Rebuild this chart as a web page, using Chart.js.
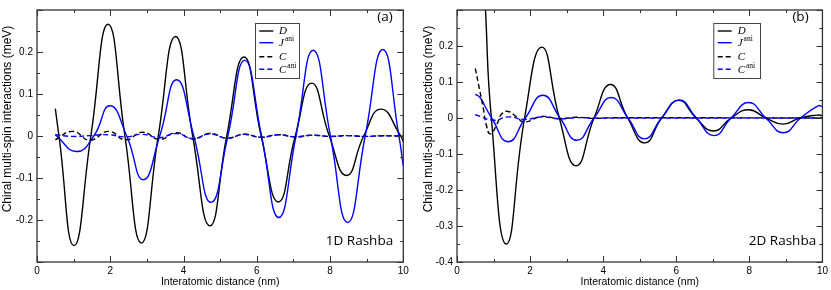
<!DOCTYPE html>
<html>
<head>
<meta charset="utf-8">
<script src="https://cdn.jsdelivr.net/npm/chart.js@4.4.0/dist/chart.umd.min.js"></script>
<style>
  html, body { margin: 0; padding: 0; background: #fff; }
  body { width: 831px; height: 290px; position: relative; overflow: hidden; }
  canvas { position: absolute; top: 0; }
  #panelA { left: 0; width: 416px; height: 290px; }
  #panelB { left: 416px; width: 415px; height: 290px; }
</style>
</head>
<body>
<canvas id="panelA" width="416" height="290"></canvas>
<canvas id="panelB" width="415" height="290"></canvas>
<script>
// --- data (x in nm, y in meV) ---

// (a) 1D Rashba
const xD_a = [0.5, 0.6, 1.01, 1.47, 1.94, 2.40, 2.85, 3.31, 3.78, 4.25, 4.72, 5.18, 5.65, 6.12, 6.59, 7.05, 7.50, 7.98, 8.45, 8.92, 9.39, 9.93, 10.0];
const yD_a = [0.065, 0, -0.261, 0, 0.266, 0, -0.255, 0, 0.237, 0, -0.214, 0, 0.188, 0, -0.157, 0, 0.126, 0, -0.094, 0, 0.064, 0, -0.014];

const xJ_a = [0.5, 1.08, 1.55, 1.99, 2.45, 2.90, 3.35, 3.81, 4.28, 4.75, 5.21, 5.67, 6.13, 6.60, 7.07, 7.54, 8.01, 8.48, 8.96, 9.44, 9.88, 10.0];
const yJ_a = [0.003, -0.037, 0, 0.072, 0, -0.104, 0, 0.134, 0, -0.158, 0, 0.180, 0, -0.194, 0, 0.204, 0, -0.206, 0, 0.206, 0, -0.072];

const xC_a = [0.5, 0.97, 1.45, 1.95, 2.42, 2.88, 3.35, 3.80, 4.26, 4.72, 5.19, 5.65, 6.12, 6.59, 7.05, 7.51, 7.98, 8.46, 8.93, 9.40, 9.88, 10.0];
const yC_a = [-0.009, 0.011, -0.010, 0.011, -0.009, 0.009, -0.008, 0.008, -0.007, 0.006, -0.005, 0.004, -0.003, 0.003, -0.002, 0.002, -0.001, 0.001, -0.001, 0.0005, 0, 0];

const xCa_a = [0.5, 0.97, 1.45, 1.95, 2.42, 2.88, 3.35, 3.80, 4.26, 4.72, 5.19, 5.65, 6.12, 6.59, 7.05, 7.51, 7.98, 8.46, 8.93, 9.40, 9.88, 10.0];
const yCa_a = [0.003, -0.001, 0.001, 0.003, -0.002, 0.004, -0.004, 0.006, -0.006, 0.005, -0.005, 0.004, -0.003, 0.003, -0.002, 0.002, -0.001, 0.001, -0.001, 0.0005, 0, 0];

// (b) 2D Rashba
const xD_b = [0.5, 0.78, 0.94, 1.35, 1.85, 2.32, 2.80, 3.26, 3.75, 4.20, 4.67, 5.14, 5.60, 6.07, 6.54, 7.02, 7.50, 7.98, 8.45, 8.92, 9.38, 9.85, 10.0];
const yD_b = [0.9, 0.30, 0, -0.35, 0, 0.197, 0, -0.133, 0, 0.093, 0, -0.069, 0, 0.049, 0, -0.036, 0, 0.023, 0, -0.017, 0, 0.008, 0.007];

const xJ_b = [0.5, 0.63, 0.77, 0.95, 1.40, 1.87, 2.35, 2.82, 3.28, 3.75, 4.22, 4.68, 5.13, 5.60, 6.08, 6.55, 7.03, 7.50, 7.98, 8.45, 8.93, 9.40, 9.88, 10.0];
const yJ_b = [0.066, 0.057, 0.032, 0, -0.066, 0, 0.063, 0, -0.062, 0, 0.057, 0, -0.058, 0, 0.050, 0, -0.049, 0, 0.043, 0, -0.041, 0, 0.034, 0.032];

const xC_b = [0.5, 0.63, 0.72, 0.80, 0.91, 1.09, 1.22, 1.40, 1.63, 1.84, 2.32, 2.80, 3.28, 3.75, 4.20, 10.0];
const yC_b = [0.138, 0.073, 0.027, -0.018, -0.044, -0.018, 0.011, 0.018, 0.003, -0.011, 0.004, -0.002, 0.002, -0.001, 0.0005, 0];

const xCa_b = [0.5, 1.0, 1.4, 1.85, 2.32, 2.80, 3.28, 3.75, 10.0];
const yCa_b = [0.009, -0.006, 0.003, -0.004, 0.003, -0.002, 0.001, 0, 0];

const xTicks = [0, 2, 4, 6, 8, 10];
const seriesNames = ['D', 'J', 'C', 'C'];
const seriesSups = ['', 'ani', '', 'ani'];
const yTitle = 'Chiral multi-spin interactions (meV)';

const BLUE = '#0000ff';
const BLACK = '#000000';

function pts(xs, ys) {
  return xs.map((x, i) => ({ x: x, y: ys[i] }));
}

function makeDatasets(sets) {
  const styles = [
    { color: BLACK, dash: [], order: 4 },
    { color: BLUE, dash: [], order: 3 },
    { color: BLACK, dash: [5, 3], order: 2 },
    { color: BLUE, dash: [5, 3], order: 1 }
  ];
  return sets.map((s, i) => ({
    data: pts(s[0], s[1]),
    borderColor: styles[i].color,
    borderDash: styles[i].dash,
    borderWidth: 1.4,
    pointRadius: 0,
    tension: 0.5,
    clip: 0,
    order: styles[i].order
  }));
}

// inward ticks (major + minor) on all four sides and the frame
const frameTicks = {
  id: 'frameTicks',
  afterDatasetsDraw(chart) {
    const { ctx, chartArea: a, scales: { x, y } } = chart;
    ctx.save();
    ctx.strokeStyle = '#333';
    ctx.lineWidth = 1;
    ctx.beginPath();
    for (let i = 0; i <= 10; i++) {
      const px = Math.round(x.getPixelForValue(x.min + i)) + 0.5;
      const len = i % 2 === 0 ? 6 : 3;
      ctx.moveTo(px, a.bottom); ctx.lineTo(px, a.bottom - len);
      ctx.moveTo(px, a.top); ctx.lineTo(px, a.top + len);
    }
    const n = Math.round((y.max - y.min) / 0.05);
    for (let i = 0; i <= n; i++) {
      const py = Math.round(y.getPixelForValue(y.min + i * 0.05)) + 0.5;
      const len = i % 2 === 0 ? 6 : 3;
      ctx.moveTo(a.left, py); ctx.lineTo(a.left + len, py);
      ctx.moveTo(a.right, py); ctx.lineTo(a.right - len, py);
    }
    ctx.stroke();
    ctx.lineWidth = 1.3;
    ctx.strokeRect(a.left, a.top, a.right - a.left, a.bottom - a.top);
    ctx.restore();
  }
};

// legend box with math-style labels, y title, panel annotations
const annotations = {
  id: 'annotations',
  afterDraw(chart, args, o) {
    const { ctx } = chart;
    ctx.save();
    // y axis title (sits a little above the axis centre in the original)
    ctx.save();
    ctx.translate(o.titleX, 119);
    ctx.rotate(-Math.PI / 2);
    ctx.fillStyle = BLACK;
    ctx.textAlign = 'center';
    ctx.textBaseline = 'middle';
    ctx.font = '12px "Liberation Sans"';
    ctx.fillText(yTitle, 0, 0);
    ctx.restore();
    // legend box
    ctx.fillStyle = '#fff';
    ctx.fillRect(o.box[0], o.box[1], o.box[2], o.box[3]);
    ctx.strokeStyle = '#444';
    ctx.lineWidth = 1;
    ctx.strokeRect(o.box[0] + 0.5, o.box[1] + 0.5, o.box[2], o.box[3]);
    const rows = [31, 42.7, 56.7, 69.2];
    const colors = [BLACK, BLUE, BLACK, BLUE];
    const dashes = [[], [], [5, 3], [5, 3]];
    rows.forEach((ry, i) => {
      ctx.strokeStyle = colors[i];
      ctx.lineWidth = 1.4;
      ctx.setLineDash(dashes[i]);
      ctx.beginPath();
      ctx.moveTo(o.lineX, ry);
      ctx.lineTo(o.lineX + 14, ry);
      ctx.stroke();
      ctx.setLineDash([]);
      ctx.fillStyle = BLACK;
      ctx.textBaseline = 'middle';
      ctx.textAlign = 'left';
      ctx.font = 'italic 11px "Liberation Serif"';
      ctx.fillText(seriesNames[i], o.textX, ry + 0.5);
      if (seriesSups[i]) {
        const w = ctx.measureText(seriesNames[i]).width;
        ctx.font = '7.5px "Liberation Serif"';
        ctx.fillText(seriesSups[i], o.textX + w + 1, ry - 3.5);
      }
    });
    // panel tag and system label
    ctx.fillStyle = BLACK;
    ctx.textAlign = 'center';
    ctx.textBaseline = 'middle';
    ctx.font = '13.5px "Open Sans"';
    ctx.fillText(o.tag, o.tagPos[0], o.tagPos[1]);
    ctx.fillText(o.label, o.labelPos[0], o.labelPos[1]);
    ctx.restore();
  }
};

function makeChart(id, sets, yMin, hidden, yWidth, padRight, ann) {
  const fmt = v => {
    const r = Math.round(v * 10) / 10;
    if (hidden.some(h => Math.abs(h - r) < 1e-6)) return '';
    return String(r);
  };
  return new Chart(document.getElementById(id), {
    type: 'line',
    data: { datasets: makeDatasets(sets) },
    options: {
      responsive: false,
      animation: false,
      events: [],
      layout: { padding: { left: 0, right: padRight, top: 5, bottom: 0 } },
      elements: { line: { capBezierPoints: false } },
      plugins: {
        legend: { display: false },
        tooltip: { enabled: false },
        annotations: ann
      },
      scales: {
        x: {
          type: 'linear',
          min: 0,
          max: 10,
          afterFit(s) { s.height = 28; },
          afterBuildTicks(s) { s.ticks = xTicks.map(v => ({ value: v })); },
          grid: { display: false, drawTicks: false },
          border: { display: false },
          ticks: {
            padding: 3,
            maxRotation: 0,
            autoSkip: false,
            color: '#000',
            font: { family: 'Liberation Sans', size: 10 }
          },
          title: {
            display: true,
            text: 'Interatomic distance (nm)',
            color: '#000',
            font: { family: 'Liberation Sans', size: 10.5 },
            padding: { top: 0, bottom: 2 }
          }
        },
        y: {
          type: 'linear',
          min: yMin,
          max: 0.3,
          afterFit(s) { s.width = yWidth; },
          grid: { display: false, drawTicks: false },
          border: { display: false },
          ticks: {
            stepSize: 0.1,
            padding: 4,
            color: '#000',
            font: { family: 'Liberation Sans', size: 10 },
            callback: fmt
          },
          title: { display: false }
        }
      }
    },
    plugins: [frameTicks, annotations]
  });
}

makeChart('panelA',
  [[xD_a, yD_a], [xJ_a, yJ_a], [xC_a, yC_a], [xCa_a, yCa_a]],
  -0.3, [0.3, -0.3], 37, 12.7,
  { titleX: 8, box: [255, 23, 44, 55], lineX: 259.3, textX: 279, tag: '(a)', tagPos: [385, 17.5], label: '1D Rashba', labelPos: [359.5, 241] });

makeChart('panelB',
  [[xD_b, yD_b], [xJ_b, yJ_b], [xC_b, yC_b], [xCa_b, yCa_b]],
  -0.4, [0.3], 41, 7.7,
  { titleX: 12.3, box: [297.3, 23, 46.7, 55], lineX: 301.7, textX: 321.7, tag: '(b)', tagPos: [384.5, 17], label: '2D Rashba', labelPos: [366.5, 241] });
</script>
</body>
</html>
